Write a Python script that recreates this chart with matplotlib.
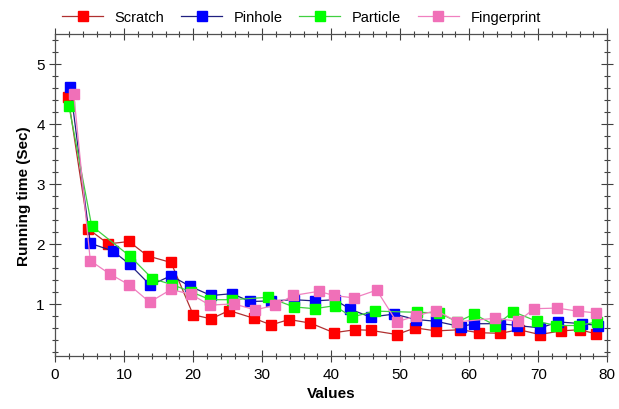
import matplotlib.pyplot as plt
from matplotlib.ticker import MultipleLocator

plt.rcParams['font.family'] = ['Liberation Sans', 'DejaVu Sans']

# values
scratch_x = [1.9, 4.8, 7.7, 10.7, 13.4, 16.8, 20.0, 22.6, 25.2, 28.8, 31.3, 33.9, 37.0,
             40.4, 43.5, 45.7, 49.5, 52.2, 55.2, 58.7, 61.4, 64.5, 67.2, 70.2, 73.3, 76.0, 78.4]
scratch_y = [4.44, 2.25, 2.00, 2.04, 1.80, 1.69, 0.82, 0.75, 0.89, 0.76, 0.65, 0.74, 0.68,
             0.52, 0.57, 0.56, 0.49, 0.60, 0.55, 0.57, 0.52, 0.51, 0.57, 0.49, 0.55, 0.57, 0.50]

pinhole_x = [2.2, 5.1, 8.4, 10.8, 13.8, 16.8, 19.6, 22.6, 25.6, 28.3, 31.3, 34.6, 37.6,
             40.5, 42.8, 45.7, 49.1, 52.3, 55.2, 58.8, 60.7, 64.5, 66.9, 70.3, 72.9, 76.4, 78.7]
pinhole_y = [4.62, 2.01, 1.88, 1.66, 1.31, 1.47, 1.29, 1.14, 1.17, 1.04, 1.05, 1.07, 1.05,
             1.07, 0.91, 0.78, 0.83, 0.74, 0.71, 0.62, 0.67, 0.67, 0.64, 0.60, 0.70, 0.67, 0.64]

particle_x = [2.0, 5.3, 10.9, 14.1, 17.0, 19.7, 22.5, 25.6, 30.9, 34.6, 37.6, 40.5,
              43.0, 46.3, 52.4, 55.6, 58.3, 60.7, 63.8, 66.4, 69.8, 72.6, 75.9, 78.5]
particle_y = [4.30, 2.30, 1.79, 1.42, 1.32, 1.20, 1.07, 1.07, 1.11, 0.95, 0.92, 0.97,
              0.78, 0.88, 0.86, 0.85, 0.70, 0.83, 0.64, 0.87, 0.71, 0.64, 0.64, 0.70]

fingerprint_x = [2.7, 5.1, 7.9, 10.7, 13.7, 16.8, 19.7, 22.4, 25.9, 29.0, 31.9, 34.5, 38.2,
                 40.4, 43.3, 46.6, 49.5, 52.3, 55.2, 58.3, 63.7, 67.1, 69.4, 72.7, 75.7, 78.4]
fingerprint_y = [4.50, 1.72, 1.50, 1.32, 1.03, 1.24, 1.16, 0.98, 1.00, 0.90, 0.98, 1.14, 1.21,
                 1.14, 1.10, 1.23, 0.70, 0.80, 0.89, 0.70, 0.76, 0.71, 0.92, 0.93, 0.88, 0.85]

fig = plt.figure(figsize=(6.19, 4.10), dpi=100)
ax = fig.add_axes([0.089, 0.129, 0.892, 0.786])

ax.plot(scratch_x, scratch_y, color='#b03030', lw=0.9, marker='s', ms=6.5,
        mfc='#ff0000', mec='#ff0000', label='Scratch')
ax.plot(pinhole_x, pinhole_y, color='#202080', lw=0.9, marker='s', ms=6.5,
        mfc='#0000ff', mec='#0000ff', label='Pinhole')
ax.plot(particle_x, particle_y, color='#40d040', lw=0.9, marker='s', ms=6.5,
        mfc='#00ff00', mec='#00ff00', label='Particle')
ax.plot(fingerprint_x, fingerprint_y, color='#f080c0', lw=0.9, marker='s', ms=6.5,
        mfc='#f070b8', mec='#f070b8', label='Fingerprint')

ax.set_xlim(0, 80)
ax.set_ylim(0.13, 5.5)
ax.xaxis.set_major_locator(MultipleLocator(10))
ax.xaxis.set_minor_locator(MultipleLocator(2))
ax.yaxis.set_major_locator(MultipleLocator(1))
ax.yaxis.set_minor_locator(MultipleLocator(0.2))

for s in ax.spines.values():
    s.set_color('#505050')
    s.set_linewidth(0.9)

ax.tick_params(which='both', direction='inout', top=True, right=True,
               colors='#404040', labelcolor='black', labelsize=11)
ax.tick_params(which='major', length=8, width=0.8)
ax.tick_params(which='minor', length=5, width=0.8)

ax.set_xlabel('Values', fontsize=11, fontweight='bold')
ax.set_ylabel('Running time (Sec)', fontsize=11, fontweight='bold')

fig.legend(loc='center', bbox_to_anchor=(0.487, 0.955), ncol=4, frameon=False,
           fontsize=10.5, handlelength=2.8, columnspacing=1.15, handletextpad=0.8)

fig.savefig('out.png', dpi=100)
